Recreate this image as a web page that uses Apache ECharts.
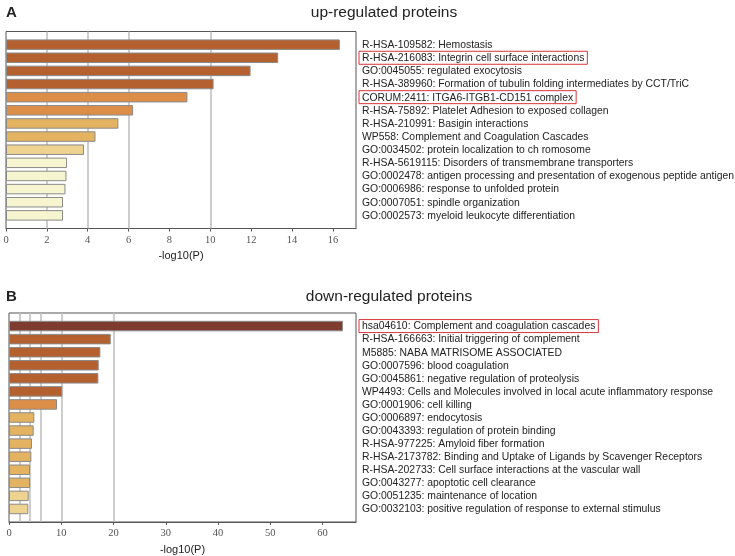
<!DOCTYPE html>
<html><head><meta charset="utf-8">
<script src="https://cdn.jsdelivr.net/npm/echarts@6/dist/echarts.min.js"></script>
<style>html,body{margin:0;padding:0;background:#fff}#c{width:735px;height:556px}</style>
</head><body><div id="c"></div>
<script>
const upTerms = [
  'R-HSA-109582: Hemostasis',
  'R-HSA-216083: Integrin cell surface interactions',
  'GO:0045055: regulated exocytosis',
  'R-HSA-389960: Formation of tubulin folding intermediates by CCT/TriC',
  'CORUM:2411: ITGA6-ITGB1-CD151 complex',
  'R-HSA-75892: Platelet Adhesion to exposed collagen',
  'R-HSA-210991: Basigin interactions',
  'WP558: Complement and Coagulation Cascades',
  'GO:0034502: protein localization to ch romosome',
  'R-HSA-5619115: Disorders of transmembrane transporters',
  'GO:0002478: antigen processing and presentation of exogenous peptide antigen',
  'GO:0006986: response to unfolded protein',
  'GO:0007051: spindle organization',
  'GO:0002573: myeloid leukocyte differentiation'
];
const upValues = [16.34, 13.32, 11.97, 10.16, 8.88, 6.22, 5.50, 4.38, 3.82, 2.99, 2.96, 2.91, 2.79, 2.79];
const upHighlight = [1, 4];

const downTerms = [
  'hsa04610: Complement and coagulation cascades',
  'R-HSA-166663: Initial triggering of complement',
  'M5885: NABA MATRISOME ASSOCIATED',
  'GO:0007596: blood coagulation',
  'GO:0045861: negative regulation of proteolysis',
  'WP4493: Cells and Molecules involved in local acute inflammatory response',
  'GO:0001906: cell killing',
  'GO:0006897: endocytosis',
  'GO:0043393: regulation of protein binding',
  'R-HSA-977225: Amyloid fiber formation',
  'R-HSA-2173782: Binding and Uptake of Ligands by Scavenger Receptors',
  'R-HSA-202733: Cell surface interactions at the vascular wall',
  'GO:0043277: apoptotic cell clearance',
  'GO:0051235: maintenance of location',
  'GO:0032103: positive regulation of response to external stimulus'
];
const downValues = [63.9, 19.47, 17.49, 17.17, 17.10, 10.2, 9.19, 4.85, 4.72, 4.40, 4.28, 4.02, 4.02, 3.77, 3.70];
const downHighlight = [0];

const upTicks = {min: 0, max: 17.13, interval: 2};
const downTicks = {min: 0, max: 66.4, interval: 10};
const upGridLines = [2, 4, 6, 10];
const downGridLines = [2, 4, 6, 10, 20];

const thresholds = [20, 10, 6, 4, 3];
const palette = ['#7e3b2f', '#b5612f', '#dc8d48', '#e3b361', '#eed28f', '#f6f5cf'];
function colorFor(v) {
  for (let i = 0; i < thresholds.length; i++) if (v >= thresholds[i]) return palette[i];
  return palette[palette.length - 1];
}

const SANS = '"Liberation Sans", Arial, sans-serif';
const SERIF = '"Liberation Serif", "DejaVu Serif", serif';

function buildPanel(idx, terms, values, hl, ticks, lines, nameGap) {
  const cats = [''].concat(terms, ['']);
  const data = [null].concat(values.map(v => ({value: v, itemStyle: {color: colorFor(v)}})), [null]);
  const hlNames = hl.map(i => terms[i]);
  return {
    xAxis: {
      gridIndex: idx, type: 'value', min: ticks.min, max: ticks.max, interval: ticks.interval,
      name: '-log10(P)', nameLocation: 'middle', nameGap: nameGap,
      nameTextStyle: {fontFamily: SANS, fontSize: 11, color: '#222'},
      axisLine: {show: true, lineStyle: {color: '#555', width: 1}},
      axisTick: {show: true, length: 3, lineStyle: {color: '#555'}},
      axisLabel: {fontFamily: SERIF, fontSize: 10.5, color: '#555', margin: 6, showMaxLabel: false},
      splitLine: {show: false}
    },
    yAxis: {
      gridIndex: idx, type: 'category', data: cats, inverse: true, boundaryGap: false, position: 'right',
      axisLine: {show: false}, axisTick: {show: false},
      axisLabel: {
        interval: 0, margin: 3, align: 'left',
        formatter: function (val) { return val ? (hlNames.indexOf(val) >= 0 ? '{hl|' + val + '}' : '{n|' + val + '}') : ''; },
        rich: {
          n: {fontFamily: SANS, fontSize: 10.4, color: '#222', padding: [2, 3, 1, 3], borderWidth: 1, borderColor: 'transparent'},
          hl: {fontFamily: SANS, fontSize: 10.4, color: '#222', padding: [2, 3, 1, 3], borderWidth: 1, borderColor: '#d9353b'}
        }
      },
      splitLine: {show: false}
    },
    series: [{
      type: 'bar', xAxisIndex: idx, yAxisIndex: idx, data: data, barWidth: 10.5, z: 2,
      itemStyle: {borderColor: '#8a8a8a', borderWidth: 1},
      markLine: {
        silent: true, symbol: 'none', z: 1, animation: false,
        label: {show: false},
        lineStyle: {color: '#bdbdbd', width: 1.5, type: 'solid'},
        data: lines.map(v => ({xAxis: v}))
      }
    }]
  };
}

const p1 = buildPanel(0, upTerms, upValues, upHighlight, upTicks, upGridLines, 22);
const p2 = buildPanel(1, downTerms, downValues, downHighlight, downTicks, downGridLines, 22);

const chart = echarts.init(document.getElementById('c'), null, {renderer: 'canvas'});
chart.setOption({
  animation: false,
  backgroundColor: '#fff',
  title: [
    {text: 'A', left: 1, top: 0, textStyle: {fontFamily: SANS, fontSize: 15, fontWeight: 'bold', color: '#222'}},
    {text: 'up-regulated proteins', left: 379, top: 0, textAlign: 'center', textStyle: {fontFamily: SANS, fontSize: 15.5, fontWeight: 'normal', color: '#222'}},
    {text: 'B', left: 1, top: 284, textStyle: {fontFamily: SANS, fontSize: 15, fontWeight: 'bold', color: '#222'}},
    {text: 'down-regulated proteins', left: 384, top: 284, textAlign: 'center', textStyle: {fontFamily: SANS, fontSize: 15.5, fontWeight: 'normal', color: '#222'}}
  ],
  grid: [
    {left: 6, width: 350, top: 31.5, height: 197, show: true, borderColor: '#555', borderWidth: 1, containLabel: false, outerBoundsMode: 'none'},
    {left: 9, width: 347, top: 313, height: 209, show: true, borderColor: '#555', borderWidth: 1, containLabel: false, outerBoundsMode: 'none'}
  ],
  xAxis: [p1.xAxis, p2.xAxis],
  yAxis: [p1.yAxis, p2.yAxis],
  series: [].concat(p1.series, p2.series)
});
</script></body></html>
